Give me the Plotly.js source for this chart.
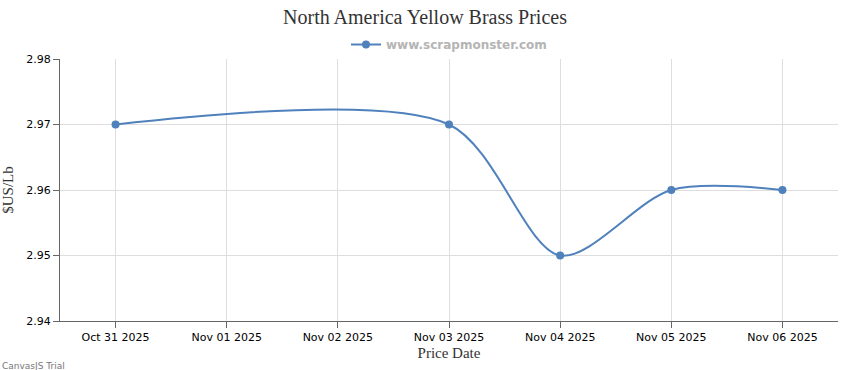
<!DOCTYPE html>
<html>
<head>
<meta charset="utf-8">
<script src="https://cdn.plot.ly/plotly-3.0.1.min.js"></script>
<style>
html,body{margin:0;padding:0;background:#fff;}
#chart{width:850px;height:370px;}
</style>
</head>
<body>
<div id="chart"></div>
<script>
const dates = ["2025-10-31", "2025-11-03", "2025-11-04", "2025-11-05", "2025-11-06"];
const prices = [2.97, 2.97, 2.95, 2.96, 2.96];
const tickDates = ["2025-10-31", "2025-11-01", "2025-11-02", "2025-11-03", "2025-11-04", "2025-11-05", "2025-11-06"];
const tickLabels = ["Oct 31 2025", "Nov 01 2025", "Nov 02 2025", "Nov 03 2025", "Nov 04 2025", "Nov 05 2025", "Nov 06 2025"];
const yTicks = [2.94, 2.95, 2.96, 2.97, 2.98];

const trace = {
  x: dates,
  y: prices,
  type: 'scatter',
  mode: 'lines+markers',
  name: '<b>www.scrapmonster.com</b>',
  line: {shape: 'spline', smoothing: 0.85, color: '#4F81BC', width: 2},
  marker: {color: '#4F81BC', size: 8},
  hoverinfo: 'x+y'
};

const layout = {
  width: 850, height: 370,
  margin: {l: 60, r: 12, t: 59, b: 49},
  paper_bgcolor: '#fff', plot_bgcolor: '#fff',
  title: {text: 'North America Yellow Brass Prices', x: 0.5, xanchor: 'center', y: 0.955, yanchor: 'middle',
    font: {family: 'Liberation Serif, serif', size: 20, color: '#333'}},
  showlegend: true,
  legend: {orientation: 'h', x: 0.5, xanchor: 'center', y: 1.0, yanchor: 'bottom', itemwidth: 30,
    font: {family: 'DejaVu Sans, sans-serif', size: 12, color: '#b4b4b4'}, bgcolor: 'rgba(0,0,0,0)'},
  xaxis: {
    type: 'date',
    range: ['2025-10-30 12:00', '2025-11-06 12:00'],
    tickvals: tickDates, ticktext: tickLabels,
    showgrid: true, gridcolor: '#dedede', gridwidth: 1,
    showline: true, linecolor: '#666', linewidth: 1,
    ticks: 'outside', ticklen: 6, tickcolor: '#666',
    tickfont: {family: 'DejaVu Sans, sans-serif', size: 11, color: '#000'},
    zeroline: false,
    title: {text: 'Price Date', standoff: 4, font: {family: 'Liberation Serif, serif', size: 15, color: '#333'}}
  },
  yaxis: {
    range: [2.94, 2.98],
    tickvals: yTicks, tickformat: '.2f',
    showgrid: true, gridcolor: '#dedede', gridwidth: 1,
    showline: true, linecolor: '#666', linewidth: 1,
    ticks: 'outside', ticklen: 6, tickcolor: '#666',
    tickfont: {family: 'DejaVu Sans, sans-serif', size: 11, color: '#000'},
    zeroline: false,
    title: {text: '$US/Lb', standoff: 10, font: {family: 'Liberation Serif, serif', size: 15, color: '#333'}}
  },
  annotations: [{
    text: 'CanvasJS Trial', xref: 'paper', yref: 'paper', x: -60/778, y: -45/262,
    xanchor: 'left', yanchor: 'middle', showarrow: false,
    font: {family: 'DejaVu Sans, sans-serif', size: 9, color: '#777'}
  }]
};

Plotly.newPlot('chart', [trace], layout, {displayModeBar: false});
</script>
</body>
</html>
